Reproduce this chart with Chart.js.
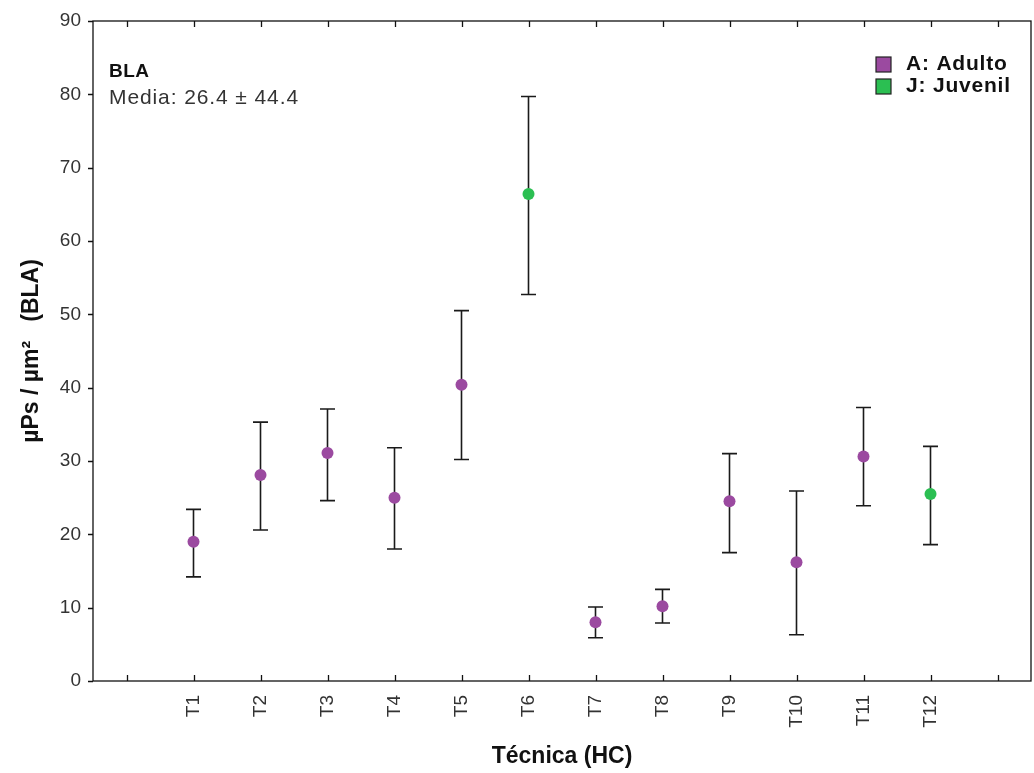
<!DOCTYPE html>
<html><head><meta charset="utf-8">
<script src="https://cdn.jsdelivr.net/npm/chart.js@4/dist/chart.umd.min.js"></script>
<style>html,body{margin:0;padding:0;background:#fff}#wrap{width:1034px;height:773px}</style>
</head><body><div id="wrap"><canvas id="c" width="1034" height="773"></canvas></div>
<script>
const categories = ['', 'T1','T2','T3','T4','T5','T6','T7','T8','T9','T10','T11','T12', ''];
const groups = [null,'A','A','A','A','A','J','A','A','A','A','A','J',null];
const means  = [null,19.0,28.1,31.1,25.0,40.4,66.4, 8.0,10.2,24.5,16.2,30.6,25.5,null];
const lower  = [null,14.2,20.6,24.6,18.0,30.2,52.7, 5.9, 7.9,17.5, 6.3,23.9,18.6,null];
const upper  = [null,23.4,35.3,37.1,31.8,50.5,79.7,10.1,12.5,31.0,25.9,37.3,32.0,null];
const yTicks = [0,10,20,30,40,50,60,70,80,90];
const groupNames = {A:'A: Adulto', J:'J: Juvenil'};
const groupColors = {A:'#9b4aa0', J:'#2bbf52'};
const infoTitle = 'BLA';
const infoText = 'Media: 26.4 ± 44.4';

const adultData = means.map((v,i)=> groups[i]==='A' ? v : null);
const juvData = means.map((v,i)=> groups[i]==='J' ? v : null);

const FONT = "'Liberation Sans', Arial, sans-serif";

const errorBars = {
  id:'errorBars',
  beforeDatasetsDraw(chart){
    const {ctx, scales:{x,y}} = chart;
    ctx.save();
    ctx.strokeStyle = '#1a1a1a';
    ctx.lineWidth = 1.6;
    for (let i=0;i<means.length;i++){
      if (means[i]==null) continue;
      const px = x.getPixelForValue(i);
      const yt = y.getPixelForValue(upper[i]);
      const yb = y.getPixelForValue(lower[i]);
      ctx.beginPath();
      ctx.moveTo(px, yt); ctx.lineTo(px, yb);
      ctx.moveTo(px-7.5, yt); ctx.lineTo(px+7.5, yt);
      ctx.moveTo(px-7.5, yb); ctx.lineTo(px+7.5, yb);
      ctx.stroke();
    }
    ctx.restore();
  }
};

const frame = {
  id:'frame',
  afterDatasetsDraw(chart){
    const {ctx, chartArea:a, scales:{x,y}} = chart;
    ctx.save();
    ctx.strokeStyle = '#111';
    ctx.lineWidth = 1.3;
    ctx.strokeRect(a.left, a.top, a.right-a.left, a.bottom-a.top);
    ctx.beginPath();
    x.ticks.forEach((t,i)=>{
      const px = Math.round(x.getPixelForTick(i))+0.5;
      ctx.moveTo(px, a.bottom); ctx.lineTo(px, a.bottom-6);
      ctx.moveTo(px, a.top); ctx.lineTo(px, a.top+6);
    });
    y.ticks.forEach((t,i)=>{
      const py = Math.round(y.getPixelForTick(i))+0.5;
      ctx.moveTo(a.left, py); ctx.lineTo(a.left-5, py);
    });
    ctx.stroke();
    // info text
    ctx.fillStyle = '#111';
    ctx.textBaseline = 'middle';
    ctx.textAlign = 'left';
    ctx.font = "bold 19px " + FONT;
    ctx.letterSpacing = '0.5px';
    ctx.fillText(infoTitle, 109, 72);
    ctx.fillStyle = '#333';
    ctx.font = "21px " + FONT;
    ctx.letterSpacing = '0.9px';
    ctx.fillText(infoText, 109, 98);
    // legend
    const items = ['A','J'];
    items.forEach((g,k)=>{
      const cy = 64 + k*22;
      ctx.fillStyle = groupColors[g];
      ctx.fillRect(876, cy-7, 15, 15);
      ctx.strokeStyle = '#222';
      ctx.lineWidth = 1.2;
      ctx.strokeRect(876, cy-7, 15, 15);
      ctx.fillStyle = '#111';
      ctx.font = "bold 21px " + FONT;
      ctx.letterSpacing = '0.8px';
      ctx.fillText(groupNames[g], 906, cy);
    });
    ctx.letterSpacing = '0px';
    ctx.restore();
  }
};

new Chart(document.getElementById('c'), {
  type:'line',
  data:{
    labels: categories,
    datasets:[
      {label:groupNames.A, data:adultData, showLine:false, pointRadius:6, pointHoverRadius:6, pointBackgroundColor:groupColors.A, pointBorderWidth:0, borderColor:groupColors.A},
      {label:groupNames.J, data:juvData, showLine:false, pointRadius:6, pointHoverRadius:6, pointBackgroundColor:groupColors.J, pointBorderWidth:0, borderColor:groupColors.J}
    ]
  },
  options:{
    responsive:false,
    animation:false,
    layout:{autoPadding:false, padding:{left:0,right:3,top:21,bottom:0}},
    plugins:{legend:{display:false}, tooltip:{enabled:false}},
    scales:{
      x:{
        type:'category',
        offset:true,
        grid:{display:false},
        border:{display:false},
        ticks:{autoSkip:false, maxRotation:90, minRotation:90, padding:6, color:'#333', font:{family:FONT, size:19}},
        title:{display:true, text:'Técnica (HC)', color:'#111', font:{family:FONT, size:23, weight:'bold'}, padding:{top:0,bottom:3}},
        afterFit(s){ s.height = 92; }
      },
      y:{
        min:0, max:90,
        grid:{display:false},
        border:{display:false},
        afterBuildTicks(s){ s.ticks = yTicks.map(v=>({value:v})); },
        ticks:{padding:4, color:'#333', font:{family:FONT, size:19}},
        title:{display:true, text:'µPs / µm²   (BLA)', color:'#111', font:{family:FONT, size:23, weight:'bold'}, padding:{top:18,bottom:0}},
        afterFit(s){ s.width = 93; }
      }
    }
  },
  plugins:[errorBars, frame]
});
</script>
</body></html>
